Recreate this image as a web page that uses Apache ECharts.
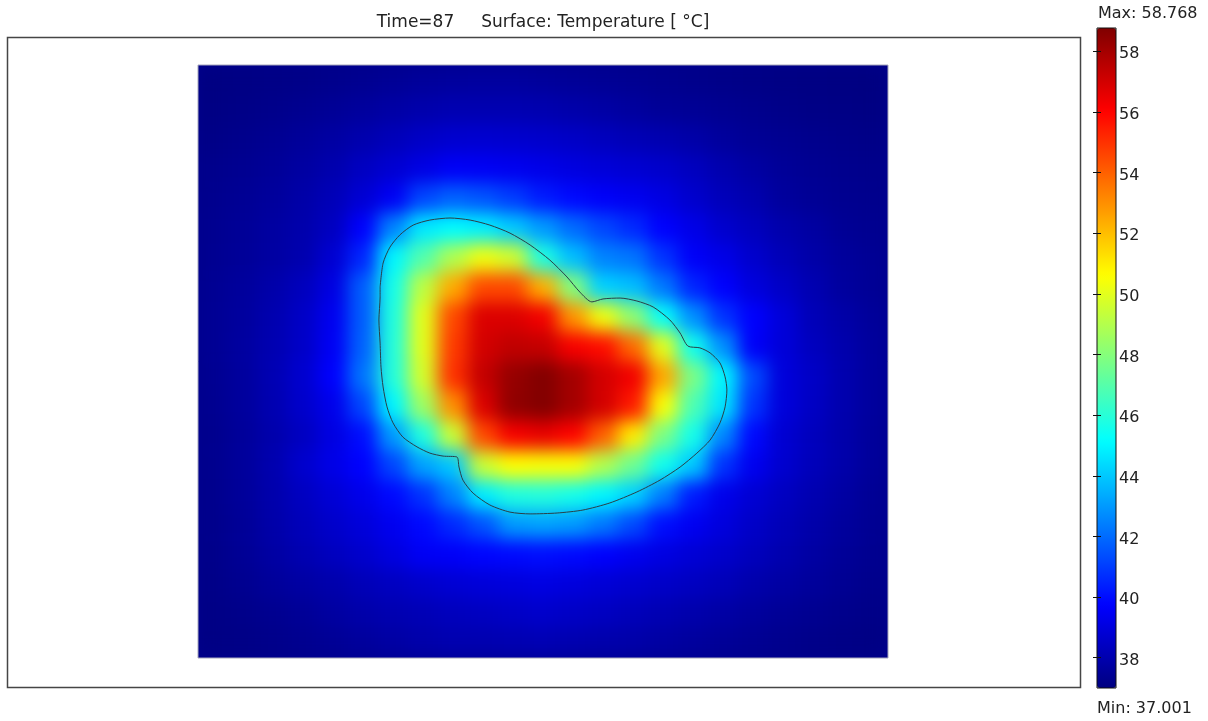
<!DOCTYPE html>
<html>
<head>
<meta charset="utf-8">
<title>Temperature surface</title>
<script src="https://cdn.jsdelivr.net/npm/echarts@6/dist/echarts.min.js"></script>
<style>
  html, body { margin: 0; padding: 0; background: #fff; }
  #wrap { position: relative; width: 1208px; height: 721px; }
  #field { position: absolute; left: 198px; top: 65px; width: 690px; height: 593px; overflow: hidden; background: #00008c; z-index: 0; }
  #field-chart { width: 690px; height: 593px; filter: blur(9px); }
  #main { position: absolute; left: 0; top: 0; width: 1208px; height: 721px; z-index: 1; }
</style>
</head>
<body>
<div id="wrap">
  <div id="field"><div id="field-chart"></div></div>
  <div id="main"></div>
</div>
<script>
// surface cells: 23 columns x 20 rows over the rectangular domain
const colIds = [0, 1, 2, 3, 4, 5, 6, 7, 8, 9, 10, 11, 12, 13, 14, 15, 16, 17, 18, 19, 20, 21, 22];
const rowIds = [0, 1, 2, 3, 4, 5, 6, 7, 8, 9, 10, 11, 12, 13, 14, 15, 16, 17, 18, 19];

// temperature [°C], one row per line, top row first
const tempGrid = [
  [37.05, 37.08, 37.12, 37.18, 37.26, 37.35, 37.45, 37.55, 37.62, 37.65, 37.65, 37.58, 37.5, 37.43, 37.37, 37.3, 37.24, 37.18, 37.13, 37.09, 37.06, 37.04, 37.02],
  [37.09, 37.15, 37.24, 37.35, 37.48, 37.62, 37.8, 37.95, 38.05, 38.05, 38.05, 38.0, 37.9, 37.8, 37.65, 37.5, 37.45, 37.36, 37.27, 37.2, 37.14, 37.1, 37.06],
  [37.15, 37.25, 37.38, 37.55, 37.75, 37.98, 38.25, 38.5, 38.7, 38.72, 38.68, 38.6, 38.5, 38.32, 38.15, 38.02, 37.85, 37.62, 37.45, 37.36, 37.28, 37.21, 37.15],
  [37.25, 37.36, 37.52, 37.72, 37.98, 38.42, 38.75, 39.15, 39.55, 39.5, 39.4, 39.25, 39.05, 38.9, 38.75, 38.6, 38.35, 38.0, 37.75, 37.52, 37.38, 37.3, 37.24],
  [37.3, 37.42, 37.6, 37.85, 38.2, 38.8, 39.5, 41.2, 41.8, 41.5, 41.0, 40.3, 39.9, 39.6, 39.4, 39.1, 38.65, 38.25, 37.98, 37.62, 37.45, 37.35, 37.28],
  [37.35, 37.5, 37.7, 37.95, 38.4, 39.7, 42.5, 44.7, 45.1, 44.8, 44.0, 43.0, 42.0, 41.2, 40.6, 39.7, 39.2, 38.65, 38.3, 37.95, 37.7, 37.45, 37.35],
  [37.37, 37.52, 37.72, 38.0, 38.75, 40.5, 45.0, 46.9, 48.9, 50.3, 49.6, 45.8, 43.8, 42.5, 42.2, 40.8, 39.6, 39.2, 38.65, 38.2, 37.85, 37.6, 37.42],
  [37.4, 37.6, 37.9, 38.3, 39.1, 41.7, 45.6, 49.2, 52.4, 54.5, 54.5, 52.3, 48.0, 44.2, 43.8, 42.3, 40.5, 39.7, 39.0, 38.5, 38.05, 37.65, 37.45],
  [37.42, 37.65, 38.0, 38.5, 39.4, 41.7, 45.8, 50.0, 54.5, 56.8, 56.8, 56.3, 52.9, 50.3, 48.2, 45.3, 42.8, 40.8, 39.7, 38.9, 38.2, 37.85, 37.55],
  [37.42, 37.68, 38.05, 38.55, 39.5, 41.8, 45.9, 50.0, 54.8, 57.0, 57.4, 57.3, 56.2, 55.8, 53.8, 50.0, 45.5, 42.8, 39.6, 38.9, 38.35, 37.97, 37.62],
  [37.38, 37.65, 38.1, 38.7, 39.7, 42.2, 45.9, 49.7, 55.0, 57.3, 58.3, 58.7, 58.0, 57.0, 56.3, 52.5, 47.8, 45.0, 41.3, 38.95, 38.5, 38.0, 37.65],
  [37.35, 37.62, 38.05, 38.6, 39.3, 41.2, 45.0, 48.5, 53.0, 56.8, 58.4, 58.7, 58.0, 57.0, 55.5, 50.5, 46.8, 44.6, 40.8, 38.95, 38.45, 37.98, 37.62],
  [37.3, 37.55, 37.95, 38.4, 39.1, 40.0, 43.0, 45.8, 49.5, 54.5, 56.2, 56.5, 56.0, 54.0, 51.0, 47.8, 45.6, 42.6, 39.9, 38.75, 38.3, 37.92, 37.58],
  [37.3, 37.58, 38.0, 38.65, 39.2, 39.75, 41.2, 43.2, 44.0, 49.5, 50.6, 50.5, 50.5, 49.0, 47.5, 45.5, 44.0, 40.8, 39.4, 38.7, 38.25, 37.9, 37.55],
  [37.28, 37.55, 37.95, 38.4, 38.85, 39.3, 39.9, 40.8, 42.5, 44.8, 45.8, 45.9, 45.6, 45.0, 44.2, 42.4, 40.3, 39.3, 38.8, 38.4, 38.05, 37.75, 37.45],
  [37.25, 37.5, 37.88, 38.25, 38.6, 38.95, 39.4, 39.9, 40.6, 41.5, 43.0, 43.2, 43.0, 42.3, 41.3, 40.0, 39.45, 39.0, 38.55, 38.2, 37.9, 37.62, 37.4],
  [37.22, 37.45, 37.75, 38.05, 38.35, 38.65, 39.05, 39.5, 39.6, 39.8, 39.9, 40.0, 39.9, 39.7, 39.4, 39.1, 38.85, 38.6, 38.3, 38.0, 37.75, 37.52, 37.35],
  [37.18, 37.35, 37.55, 37.75, 37.95, 38.2, 38.4, 38.6, 38.8, 38.9, 39.0, 39.1, 39.0, 38.85, 38.7, 38.55, 38.4, 38.2, 37.95, 37.75, 37.57, 37.4, 37.26],
  [37.12, 37.22, 37.35, 37.5, 37.7, 37.9, 38.05, 38.15, 38.3, 38.4, 38.5, 38.6, 38.5, 38.4, 38.25, 38.1, 37.95, 37.8, 37.62, 37.48, 37.36, 37.26, 37.17],
  [37.08, 37.14, 37.22, 37.32, 37.45, 37.6, 37.75, 37.9, 38.0, 38.0, 38.05, 38.1, 38.0, 37.93, 37.85, 37.74, 37.62, 37.5, 37.38, 37.28, 37.2, 37.13, 37.08]
];

// subdomain boundary, in the same cell units (x right, y down)
const outlineX = [6.07, 6.17, 6.4, 6.73, 7.17, 7.73, 8.4, 9.07, 9.73, 10.4, 11.07, 11.73, 12.3, 12.73, 13.13, 13.5, 14.07, 14.63, 15.17, 15.73, 16.07, 16.33, 16.73, 17.07, 17.4, 17.57, 17.63, 17.57, 17.4, 17.07, 16.63, 16.07, 15.4, 14.63, 13.73, 12.83, 11.97, 11.07, 10.4, 9.73, 9.17, 8.83, 8.7, 8.63, 8.17, 7.73, 7.3, 6.83, 6.5, 6.3, 6.17, 6.1, 6.07, 6.03, 6.07, 6.07];
const outlineY = [7.49, 6.68, 6.14, 5.73, 5.4, 5.23, 5.16, 5.23, 5.4, 5.67, 6.07, 6.58, 7.15, 7.66, 7.99, 7.89, 7.86, 7.96, 8.16, 8.6, 9.04, 9.48, 9.54, 9.71, 10.05, 10.52, 10.96, 11.53, 12.07, 12.65, 13.09, 13.56, 14.0, 14.4, 14.77, 15.01, 15.11, 15.14, 15.08, 14.84, 14.44, 14.0, 13.56, 13.22, 13.19, 13.09, 12.88, 12.55, 12.07, 11.53, 10.86, 10.19, 9.38, 8.6, 7.82, 7.49];

// colour range and colour bar ticks
const tMin = 37.001;
const tMax = 58.768;
const barTicks = [38, 40, 42, 44, 46, 48, 50, 52, 54, 56, 58];
const jetStops = ['#000080', '#0000ff', '#0080ff', '#00ffff', '#80ff80', '#ffff00', '#ff8000', '#ff0000', '#800000'];

const titleText = 'Time=87     Surface: Temperature [ \u00b0C]';
const fontName = '"DejaVu Sans", Verdana, sans-serif';

// ---- surface plot (drawn under the frame, softened with css blur) ----
let cells = [];
tempGrid.forEach((row, j) => {
  row.forEach((v, i) => {
    cells.push([colIds[i], rowIds[j], v]);
  });
});

let fieldChart = echarts.init(document.getElementById('field-chart'));
fieldChart.setOption({
  animation: false,
  grid: {left: 0, right: 0, top: 0, bottom: 0},
  xAxis: {type: 'category', data: colIds, show: false},
  yAxis: {type: 'category', data: rowIds, inverse: true, show: false},
  visualMap: {
    show: false,
    min: tMin,
    max: tMax,
    inRange: {color: jetStops},
  },
  series: [
    {
      type: 'heatmap',
      data: cells,
      silent: true,
      progressive: 0,
    },
  ],
});

// ---- frame, boundary line, colour bar and texts ----
let outline = outlineX.map((x, k) => [x, outlineY[k]]);

let barTickAxis = (pos) => ({
  type: 'value',
  gridIndex: 1,
  min: tMin,
  max: tMax,
  position: pos,
  z: 10,
  axisLine: {show: false},
  splitLine: {show: false},
  axisTick: {show: true, inside: true, length: 4, customValues: barTicks, lineStyle: {color: '#111'}},
  axisLabel: {show: false},
});

let myChart = echarts.init(document.getElementById('main'));
let option = {
  animation: false,
  backgroundColor: 'transparent',
  textStyle: {fontFamily: fontName},
  graphic: [
    {
      type: 'rect',
      silent: true,
      shape: {x: 7.5, y: 37.5, width: 1073, height: 650},
      style: {fill: 'none', stroke: '#464646', lineWidth: 1.5},
    },
    {
      type: 'text',
      silent: true,
      x: 543,
      y: 23,
      style: {
        text: titleText,
        align: 'center',
        verticalAlign: 'middle',
        font: '17px ' + fontName,
        fill: '#222',
      },
    },
    {
      type: 'text',
      silent: true,
      x: 1098,
      y: 14,
      style: {
        text: 'Max: ' + tMax.toFixed(3),
        verticalAlign: 'middle',
        font: '16px ' + fontName,
        fill: '#222',
      },
    },
    {
      type: 'text',
      silent: true,
      x: 1097,
      y: 709,
      style: {
        text: 'Min: ' + tMin.toFixed(3),
        verticalAlign: 'middle',
        font: '16px ' + fontName,
        fill: '#222',
      },
    },
  ],
  visualMap: {
    type: 'continuous',
    seriesIndex: [],
    min: tMin,
    max: tMax,
    left: 1097,
    top: 28,
    itemWidth: 19,
    itemHeight: 660,
    padding: 0,
    calculable: false,
    hoverLink: false,
    inRange: {color: jetStops},
  },
  grid: [
    {left: 198, top: 65, width: 690, height: 593, show: true, borderColor: '#a6a6bc', borderWidth: 1},
    {left: 1097, top: 28, width: 19, height: 660, show: true, borderColor: '#111', borderWidth: 1, z: 10},
    // label strip, set a few px lower so the digits sit centred on the ticks
    {left: 1097, top: 31, width: 19, height: 660, show: false},
  ],
  xAxis: [
    {type: 'value', gridIndex: 0, min: 0, max: colIds.length, show: false},
    {type: 'value', gridIndex: 1, min: 0, max: 1, show: false},
    {type: 'value', gridIndex: 2, min: 0, max: 1, show: false},
  ],
  yAxis: [
    {type: 'value', gridIndex: 0, min: 0, max: rowIds.length, inverse: true, show: false},
    barTickAxis('right'),
    barTickAxis('left'),
    {
      type: 'value',
      gridIndex: 2,
      min: tMin,
      max: tMax,
      position: 'right',
      axisLine: {show: false},
      splitLine: {show: false},
      axisTick: {show: false},
      axisLabel: {
        customValues: barTicks,
        margin: 3,
        fontSize: 16,
        fontFamily: fontName,
        color: '#222',
      },
    },
  ],
  series: [
    {
      type: 'line',
      xAxisIndex: 0,
      yAxisIndex: 0,
      data: outline,
      smooth: 0.25,
      showSymbol: false,
      silent: true,
      z: 5,
      lineStyle: {color: '#2a3f47', width: 1},
    },
  ],
};
option && myChart.setOption(option);
</script>
</body>
</html>
